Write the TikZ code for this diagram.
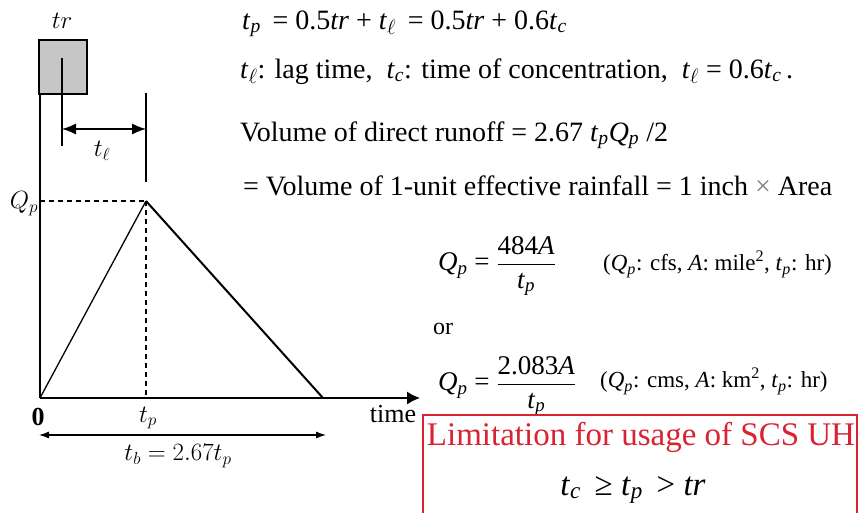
\documentclass[tikz,border=0pt]{standalone}
\usepackage{amsmath}
\usepackage{fontspec}
\setmainfont{Liberation Serif}
\usetikzlibrary{arrows.meta}
\definecolor{limred}{RGB}{215,35,50}
\newcommand{\ti}[1]{\textit{#1}}
\newcommand{\tsub}[2]{\textit{#1}\textsubscript{\textit{#2}}}
\newcommand{\tl}{\textit{t}\textsubscript{$\ell$}}
\begin{document}
\begin{tikzpicture}[x=1pt,y=-1pt,
  axisline/.style={line width=1.4pt},
  thinline/.style={line width=1.2pt},
  bigdbl/.style={line width=1.2pt,{Latex[length=14pt,width=11pt]}-{Latex[length=14pt,width=11pt]}},
  smalldbl/.style={line width=1.1pt,{Latex[length=10pt,width=7pt]}-{Latex[length=10pt,width=7pt]}},
  lbl/.style={inner sep=0pt,font=\fontsize{26}{29}\selectfont},
  txt/.style={inner sep=0pt,anchor=base west,font=\fontsize{28}{32}\selectfont},
  note/.style={inner sep=0pt,anchor=west,font=\fontsize{23}{26}\selectfont},
]
\useasboundingbox (0,0) rectangle (858,512);
% left graph
\coordinate (O) at (40,398);
\coordinate (P) at (146,201);
\coordinate (E) at (323,398);
\coordinate (Xend) at (420,398);
\coordinate (Ytop) at (40,94);
\coordinate (Pb) at (146,398);
\coordinate (Qa) at (40,201);
\node[draw,line width=1.2pt,fill=gray!45,minimum width=48pt,minimum height=54pt,inner sep=0pt] (rain) at (63,67) {};
\node[lbl] (trl) at (62,21) {$tr$};
\draw[axisline] (Ytop) -- (O);
\draw[axisline,-{Latex[length=13pt,width=13pt]}] (O) -- (Xend);
\coordinate (c1a) at (62,58);
\coordinate (c1b) at (62,146);
\coordinate (c2a) at (146,93);
\coordinate (c2b) at (146,182);
\draw[thinline] (c1a) -- (c1b);
\draw[thinline] (c2a) -- (c2b);
\coordinate (l1) at (62,129);
\coordinate (l2) at (146,129);
\draw[bigdbl] (l1) -- (l2);
\node[lbl] (tll) at (102,151) {$t_\ell$};
\draw[thinline,dash pattern=on 5pt off 4pt] (Qa) -- (P);
\draw[thinline,dash pattern=on 5pt off 4pt] (P) -- (Pb);
\draw[line width=1.3pt] (O) -- (P);
\draw[line width=2pt] (P) -- (E);
\node[lbl] (Qpl) at (24,204) {$Q_p$};
\node[lbl] (zero) at (38,417) {\textbf{0}};
\node[lbl] (tpl) at (148,418) {$t_p$};
\node[lbl] (timel) at (393,414) {time};
\coordinate (b1) at (39,435);
\coordinate (b2) at (326,435);
\draw[smalldbl] (b1) -- (b2);
\node[lbl] (tbl) at (178,456) {$t_b = 2.67t_p$};
% right text
\node[txt] (eq1) at (242,29) {\tsub{t}{p}\, = 0.5\ti{tr} + \tl{}\, = 0.5\ti{tr} + 0.6\tsub{t}{c}};
\node[txt] (eq2) at (240,78) {\tl: lag time, \ \tsub{t}{c}: time of concentration, \ \tl{} = 0.6\tsub{t}{c}\,.};
\node[txt] (eq3) at (240,141) {Volume of direct runoff = 2.67 \tsub{t}{p}\tsub{Q}{p} /2};
\node[txt] (eq4) at (243,195) {= Volume of 1-unit effective rainfall = 1 inch {\color{gray}×} Area};
\node[inner sep=0pt,anchor=west,font=\fontsize{27}{30}\selectfont] (f1) at (438,266) {\tsub{Q}{p} = $\dfrac{\text{484\textit{A}}}{\text{\tsub{t}{p}}}$};
\node[note] (n1) at (603,264) {(\tsub{Q}{p}: cfs, \ti{A}: mile\textsuperscript{2}, \tsub{t}{p}: hr)};
\node[inner sep=0pt,anchor=base west,font=\fontsize{24}{28}\selectfont] (or) at (433,334) {or};
\node[inner sep=0pt,anchor=west,font=\fontsize{27}{30}\selectfont] (f2) at (438,386) {\tsub{Q}{p} = $\dfrac{\text{2.083\textit{A}}}{\text{\tsub{t}{p}}}$};
\node[note] (n2) at (600,381) {(\tsub{Q}{p}: cms, \ti{A}: km\textsuperscript{2}, \tsub{t}{p}: hr)};
% red box
\coordinate (r1) at (423,415);
\coordinate (r2) at (857,516);
\draw[limred,line width=1.4pt,fill=white] (r1) rectangle (r2);
\node[inner sep=0pt,text=limred,font=\fontsize{33}{36}\selectfont] (lim) at (641,437) {Limitation for usage of SCS UH};
\node[inner sep=0pt,font=\fontsize{33}{36}\selectfont] (ineq) at (633,490) {\tsub{t}{c}\, ≥ \tsub{t}{p} \,> \ti{tr}};
\end{tikzpicture}
\end{document}
